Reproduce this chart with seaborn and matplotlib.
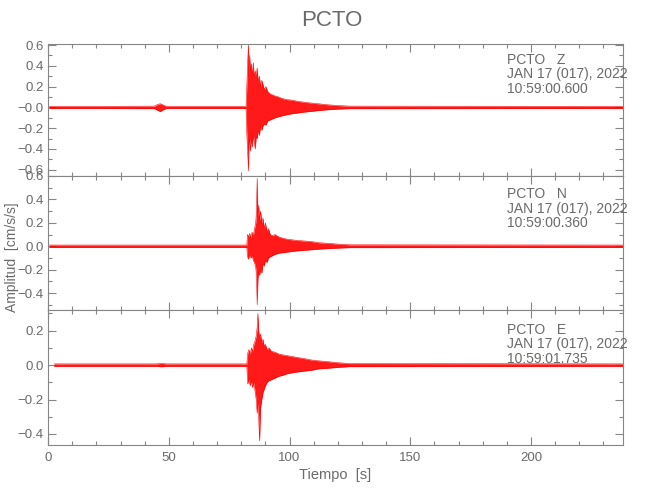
import matplotlib
matplotlib.use("Agg")
import matplotlib.pyplot as plt
import seaborn as sns
import pandas as pd
from matplotlib.ticker import MultipleLocator, FixedLocator, FixedFormatter

# envelope of each trace (upper / lower amplitude in cm/s/s)
TIME_Z = [0.5, 20, 44, 45.5, 46.5, 47.5, 49, 82.0, 82.3, 82.7, 83.0, 83.2, 83.5, 83.8,
          84.2, 84.6, 85.0, 85.4, 85.8, 86.2, 86.6, 87.0, 87.5, 88.0, 88.5, 89.0, 89.6, 90.2,
          91, 92, 93, 94, 95.5, 97, 99, 101, 103, 106, 109, 112, 116, 120, 125, 238]
UP_Z = [0.01, 0.01, 0.012, 0.03, 0.035, 0.025, 0.01, 0.01, 0.2, 0.45, 0.61, 0.3, 0.5, 0.35,
        0.42, 0.3, 0.43, 0.28, 0.35, 0.3, 0.38, 0.24, 0.3, 0.2, 0.26, 0.22, 0.17, 0.2,
        0.15, 0.13, 0.12, 0.11, 0.1, 0.085, 0.075, 0.07, 0.06, 0.05, 0.042, 0.035, 0.025, 0.018, 0.012, 0.01]
LO_Z = [-0.01, -0.01, -0.012, -0.03, -0.04, -0.025, -0.01, -0.01, -0.25, -0.45, -0.61, -0.35, -0.3, -0.42,
        -0.3, -0.38, -0.26, -0.33, -0.4, -0.28, -0.3, -0.22, -0.27, -0.18, -0.22, -0.18, -0.16, -0.17,
        -0.13, -0.12, -0.11, -0.1, -0.09, -0.08, -0.07, -0.06, -0.055, -0.045, -0.038, -0.03, -0.022, -0.016, -0.012, -0.01]

TIME_N = [0.5, 40, 82.3, 82.6, 83.0, 83.5, 84.0, 84.5, 85.0, 85.5, 86.0, 86.3, 86.6, 86.9,
          87.2, 87.6, 88.0, 88.5, 89.0, 89.5, 90.0, 90.6, 91.3, 92, 93, 94, 95.5, 97,
          99, 101, 103, 106, 109, 112, 116, 120, 125, 238]
UP_N = [0.01, 0.01, 0.01, 0.1, 0.08, 0.11, 0.07, 0.12, 0.09, 0.15, 0.2, 0.3, 0.58, 0.25,
        0.35, 0.22, 0.3, 0.2, 0.24, 0.15, 0.2, 0.13, 0.15, 0.1, 0.09, 0.1, 0.08, 0.07,
        0.06, 0.055, 0.05, 0.045, 0.04, 0.03, 0.025, 0.018, 0.012, 0.01]
LO_N = [-0.01, -0.01, -0.01, -0.09, -0.11, -0.07, -0.1, -0.08, -0.12, -0.14, -0.18, -0.25, -0.50, -0.28,
        -0.22, -0.25, -0.2, -0.23, -0.15, -0.17, -0.12, -0.14, -0.1, -0.09, -0.08, -0.07, -0.06, -0.055,
        -0.05, -0.045, -0.04, -0.035, -0.03, -0.025, -0.02, -0.016, -0.012, -0.01]

TIME_E = [2.5, 45, 47, 49, 82.3, 82.7, 83.2, 83.7, 84.2, 84.7, 85.2, 85.7, 86.2, 86.6,
          86.9, 87.2, 87.6, 88.0, 88.5, 89.0, 89.5, 90.0, 90.7, 91.5, 92.5, 94, 95.5, 97,
          99, 101, 103, 106, 109, 112, 116, 120, 125, 238]
UP_E = [0.007, 0.007, 0.01, 0.007, 0.007, 0.07, 0.09, 0.06, 0.1, 0.08, 0.12, 0.14, 0.17, 0.22,
        0.30, 0.2, 0.16, 0.18, 0.13, 0.15, 0.11, 0.12, 0.09, 0.1, 0.08, 0.075, 0.065, 0.06,
        0.055, 0.05, 0.045, 0.038, 0.03, 0.025, 0.02, 0.014, 0.009, 0.007]
LO_E = [-0.007, -0.007, -0.01, -0.007, -0.007, -0.11, -0.08, -0.12, -0.09, -0.13, -0.1, -0.15, -0.2, -0.28,
        -0.22, -0.3, -0.44, -0.25, -0.2, -0.16, -0.14, -0.12, -0.1, -0.09, -0.085, -0.075, -0.065, -0.06,
        -0.05, -0.045, -0.04, -0.035, -0.03, -0.022, -0.018, -0.013, -0.009, -0.007]

COMPONENTS = ["Z", "N", "E"]
START_TIMES = ["10:59:00.600", "10:59:00.360", "10:59:01.735"]
DATE_LABEL = "JAN 17 (017), 2022"
STATION = "PCTO"

Y_LIMITS = [(-0.66, 0.61), (-0.545, 0.60), (-0.464, 0.32)]
Y_TICKS = [[-0.6, -0.4, -0.2, 0.0, 0.2, 0.4, 0.6],
           [-0.4, -0.2, 0.0, 0.2, 0.4, 0.6],
           [-0.4, -0.2, 0.0, 0.2]]
Y_TICK_LABELS = [["\u22120.6", "\u22120.4", "\u22120.2", "\u22120.0", "0.2", "0.4", "0.6"],
                 ["\u22120.4", "\u22120.2", "0.0", "0.2", "0.4", "0.6"],
                 ["\u22120.4", "\u22120.2", "0.0", "0.2"]]
X_TICKS = [0, 50, 100, 150, 200]
X_MAX = 238

TEXT = "#6a6a6a"
AXIS = "#858585"


def set_style():
    sns.set_theme(style="white", context="paper")
    plt.rcParams["font.family"] = ["Liberation Sans", "DejaVu Sans"]
    plt.rcParams["text.color"] = TEXT
    plt.rcParams["axes.labelcolor"] = TEXT
    plt.rcParams["xtick.color"] = AXIS
    plt.rcParams["ytick.color"] = AXIS
    plt.rcParams["xtick.labelcolor"] = TEXT
    plt.rcParams["ytick.labelcolor"] = TEXT


def draw_trace(ax, times, upper, lower):
    assert len(times) == len(upper) == len(lower)
    df = pd.DataFrame({"t": times, "up": upper, "lo": lower})
    ax.fill_between(df["t"], df["lo"], df["up"], color="red", alpha=0.9, lw=0)
    sns.lineplot(data=df, x="t", y="up", ax=ax, color="red", lw=0.4, estimator=None, sort=False)
    sns.lineplot(data=df, x="t", y="lo", ax=ax, color="red", lw=0.4, estimator=None, sort=False)


def style_axis(ax, i, bottom):
    ax.set_xlim(0, X_MAX)
    ax.set_ylim(*Y_LIMITS[i])
    ax.xaxis.set_major_locator(FixedLocator(X_TICKS))
    ax.xaxis.set_minor_locator(MultipleLocator(10))
    ax.yaxis.set_major_locator(FixedLocator(Y_TICKS[i]))
    ax.yaxis.set_major_formatter(FixedFormatter(Y_TICK_LABELS[i]))
    ax.yaxis.set_minor_locator(MultipleLocator(0.1))
    ax.tick_params(which="both", direction="in", top=True, right=True, bottom=True, left=True,
                   width=0.8, labelsize=9.5)
    ax.tick_params(which="major", length=6)
    ax.tick_params(which="minor", length=3)
    ax.tick_params(axis="y", pad=3)
    ax.tick_params(axis="x", pad=5)
    if not bottom:
        ax.tick_params(axis="x", labelbottom=False)
    for s in ax.spines.values():
        s.set_color(AXIS)
        s.set_linewidth(0.8)
    ax.set_xlabel("")
    ax.set_ylabel("")


def main():
    set_style()
    fig = plt.figure(figsize=(6.5, 5), dpi=100)
    left, width = 0.074, 0.884
    bottoms = [0.648, 0.38, 0.11]
    heights = [0.264, 0.268, 0.27]
    traces = [(TIME_Z, UP_Z, LO_Z), (TIME_N, UP_N, LO_N), (TIME_E, UP_E, LO_E)]
    text_y = [0.895, 0.626, 0.355]

    for i, (t, up, lo) in enumerate(traces):
        ax = fig.add_axes([left, bottoms[i], width, heights[i]])
        draw_trace(ax, t, up, lo)
        style_axis(ax, i, bottom=(i == 2))
        info = f"{STATION}   {COMPONENTS[i]}\n{DATE_LABEL}\n{START_TIMES[i]}"
        fig.text(0.78, text_y[i], info, ha="left", va="top", fontsize=10,
                 color=TEXT, linespacing=1.05)
        if i == 2:
            ax.set_xlabel("Tiempo  [s]", fontsize=10.5, color=TEXT, labelpad=3)

    fig.text(0.511, 0.96, STATION, ha="center", va="center", fontsize=16, color=TEXT)
    fig.text(0.019, 0.486, "Amplitud  [cm/s/s]", rotation=90, ha="center", va="center",
             fontsize=10, color=TEXT)

    fig.savefig("out.png", dpi=100)
    plt.close(fig)


if __name__ == "__main__":
    main()
